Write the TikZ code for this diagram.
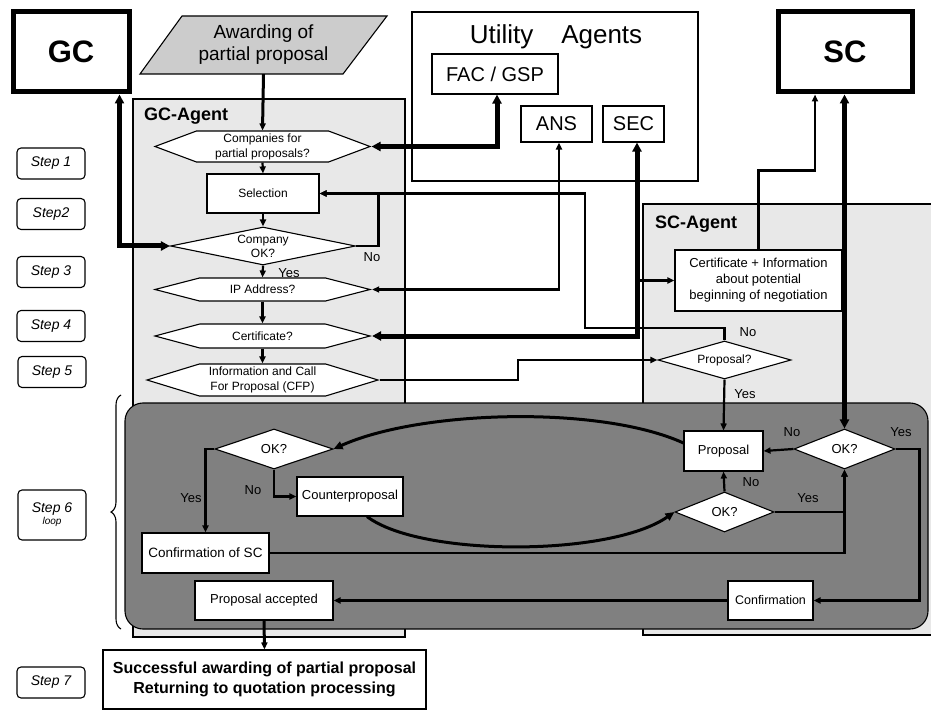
\documentclass[tikz,border=0pt]{standalone}
\usepackage{fontspec}
\setmainfont{Liberation Sans}
\usetikzlibrary{arrows.meta, shapes.geometric, shapes.symbols, decorations.pathreplacing}

\begin{document}
\begin{tikzpicture}[x=1pt, y=-1pt, >={Triangle[length=7pt, width=6pt]},
  box/.style={rectangle, draw, line width=1.1pt, fill=white, inner sep=0pt, align=center},
  hexa/.style={signal, signal to=west and east, draw, line width=1.1pt, fill=white, inner sep=0pt, align=center, font=\fontsize{12}{15}\selectfont},
  dia/.style={diamond, draw, line width=1.1pt, fill=white, inner sep=0pt, align=center},
  stepbox/.style={rectangle, draw, rounded corners=4pt, line width=1.1pt, fill=white, minimum width=68pt, minimum height=31pt, align=center, font=\fontsize{14}{15}\selectfont\itshape},
  party/.style={box, line width=5pt, minimum width=116pt, minimum height=80pt, font=\fontsize{31}{32}\selectfont\bfseries},
  agent/.style={box, font=\fontsize{20}{22}\selectfont},
  area/.style={draw, line width=1.1pt, fill=black!9},
  title/.style={inner sep=0pt, anchor=west, font=\fontsize{18}{20}\selectfont\bfseries},
  lab/.style={inner sep=0pt, font=\fontsize{13}{14}\selectfont},
  link/.style={->, line width=2.2pt},
  wire/.style={line width=2.8pt},
  heavy/.style={line width=5pt, >={Triangle[length=9pt, width=9pt]}},
  curvy/.style={->, line width=3pt, >={Triangle[length=9pt, width=8pt]}}
]
\useasboundingbox (0,0) rectangle (931,711);
% areas
\filldraw[area] (133,99) rectangle (405,637);
\filldraw[area] (643,204) rectangle (945,635);
\filldraw[fill=white, line width=1.1pt] (412,12) rectangle (698,181);
\filldraw[line width=1.1pt, fill=black!50, rounded corners=18pt] (125,403) rectangle (928,629);
\node[title] (gct) at (144,116) {GC-Agent};
\node[title] (sct) at (655,224) {SC-Agent};
\node[inner sep=0pt, font=\fontsize{26}{28}\selectfont] (ut) at (556,37) {Utility\hspace{28pt}Agents};
\draw[line width=1.1pt, decorate, decoration={brace, amplitude=10pt}] (121,629) -- (121,395);

% parties and utility agents
\node[party] (gc) at (71,52) {GC};
\node[party, minimum width=134pt] (sc) at (845,52) {SC};
\node[agent, minimum width=126pt, minimum height=40pt] (fac) at (495,74) {FAC / GSP};
\node[agent, minimum width=71pt, minimum height=36pt] (ans) at (556.5,124) {ANS};
\node[agent, minimum width=61pt, minimum height=36pt] (sec) at (633.5,124) {SEC};
\filldraw[line width=1.1pt, fill=black!20] (182,16) -- (387,16) -- (343,74) -- (140,74) -- cycle;
\node[inner sep=0pt, minimum height=58pt, align=center, font=\fontsize{19}{22}\selectfont] (aw) at (263.5,45) {Awarding of\\partial proposal};

% steps
\node[stepbox] (s1) at (51,163.5) {Step 1};
\node[stepbox] (s2) at (51,214) {Step2};
\node[stepbox] (s3) at (51,272) {Step 3};
\node[stepbox] (s4) at (51,326) {Step 4};
\node[stepbox] (s5) at (52,372) {Step 5};
\node[stepbox, minimum height=50pt] (s6) at (52,515) {Step 6\\[-3pt]{\fontsize{10}{11}\selectfont loop}};
\node[stepbox] (s7) at (51,682.5) {Step 7};

% GC-Agent
\node[hexa, signal pointer angle=41, minimum width=215pt, minimum height=31pt] (comp) at (262.5,146.5) {Companies for\\partial proposals?};
\node[box, minimum width=112pt, minimum height=39pt, font=\fontsize{12}{14}\selectfont] (sel) at (263,193.5) {Selection};
\node[dia, aspect=4.9, minimum width=185pt, minimum height=38pt, font=\fontsize{12}{14}\selectfont] (cok) at (263,246) {Company\\OK?};
\node[hexa, signal pointer angle=29, minimum width=215pt, minimum height=23pt] (ip) at (262.5,289.5) {IP Address?};
\node[hexa, signal pointer angle=30, minimum width=215pt, minimum height=24pt] (cert) at (262.5,336) {Certificate?};
\node[hexa, signal pointer angle=34, minimum width=231pt, minimum height=32pt] (cfp) at (262.5,380) {Information and Call\\For Proposal (CFP)};

% SC-Agent
\node[box, minimum width=167pt, minimum height=61pt, font=\fontsize{13}{16}\selectfont] (ci) at (758.5,280.5) {Certificate + Information\\about potential\\beginning of negotiation};
\node[dia, aspect=3.5, minimum width=133pt, minimum height=38pt, font=\fontsize{12}{14}\selectfont] (pq) at (724.5,360) {Proposal?};

% loop
\node[dia, aspect=3, minimum width=118pt, minimum height=40pt, font=\fontsize{13}{14}\selectfont] (lok) at (274,449) {OK?};
\node[box, minimum width=106pt, minimum height=39pt, font=\fontsize{13}{14}\selectfont] (cp) at (350,496.5) {Counterproposal};
\node[box, minimum width=127pt, minimum height=40pt, font=\fontsize{13.5}{14}\selectfont] (csc) at (205.5,553) {Confirmation of SC};
\node[box, minimum width=138pt, minimum height=39pt, font=\fontsize{13}{14}\selectfont] (pa) at (264,600.5) {Proposal accepted};
\node[box, minimum width=79pt, minimum height=40pt, font=\fontsize{13}{14}\selectfont] (prop) at (723.5,451) {Proposal};
\node[dia, aspect=2.5, minimum width=101pt, minimum height=40pt, font=\fontsize{13}{14}\selectfont] (rok) at (844.5,449) {OK?};
\node[dia, aspect=2.5, minimum width=99pt, minimum height=40pt, font=\fontsize{13}{14}\selectfont] (bok) at (724.5,512) {OK?};
\node[box, minimum width=85pt, minimum height=39pt, font=\fontsize{12.5}{14}\selectfont] (conf) at (770.5,600.5) {Confirmation};
\node[box, minimum width=323pt, minimum height=59pt, font=\fontsize{16}{20}\selectfont\bfseries] (succ) at (264.5,679.5) {Successful awarding of partial proposal\\Returning to quotation processing};

% GC-Agent flow
\draw[link, line width=3pt] (aw.south) -- (comp.north);
\draw[link] (comp.south) -- (sel.north);
\draw[link] (sel.south) -- (cok.north);
\draw[link] (cok.south) -- (ip.north);
\draw[link, line width=2.8pt] (ip.south) -- (cert.north);
\draw[link, line width=2.8pt] (cert.south) -- (cfp.north);
\draw[wire, ->] (cok.east) -| ([xshift=59pt]sel.east) -- (sel.east);
\node[lab] at (372,257) {No};
\node[lab] at (289,273) {Yes};

% utility agents and parties
\draw[heavy, <->] ([xshift=-12pt]gc.south east) |- (cok.west);
\draw[heavy, <->] (comp.east) -| ([xshift=2pt]fac.south);
\draw[wire, <->] (ip.east) -| ([xshift=2.5pt]ans.south);
\draw[heavy, <->] (cert.east) -| ([xshift=3.5pt]sec.south);
\draw[wire, ->] ([xshift=3.5pt]sec.south |- ci.west) -- (ci.west);
\draw[wire, ->] (ci.north) -- ++(0,-79) -| ([xshift=-30pt]sc.south);
\draw[heavy, <->] (sc.south -| rok.north) -- (rok.north);
\draw[wire, ->] (cfp.east) -- (518,380) |- (pq.west);
\draw[wire, ->] (pq.north) |- (585,328) |- (sel.east);
\node[lab] at (748,332) {No};
\draw[link] (pq.south) -- (prop.north);
\node[lab] at (745,394) {Yes};

% negotiation loop
\draw[link] (lok.west) -| (csc.north);
\node[lab] at (191,498) {Yes};
\draw[link, line width=2.8pt] (lok.south) |- (cp.west);
\node[lab] at (253,490) {No};
\draw[link] (rok.west) -- (prop.east);
\node[lab] at (792,432) {No};
\draw[link] (rok.east) -- ++(24,0) |- (conf.east);
\node[lab] at (901,432) {Yes};
\draw[link] (bok.north) -- (prop.south);
\node[lab] at (751,482) {No};
\draw[link] (bok.east) -| (rok.south);
\node[lab] at (808,498) {Yes};
\draw[link] (csc.east) -| (rok.south);
\draw[link] (conf.west) -- (pa.east);
\draw[link, line width=3pt] (pa.south) -- (succ.north);
\draw[curvy] ([yshift=8pt]prop.west) .. controls (600,405) and (420,410) .. (lok.east);
\draw[curvy] ([xshift=17pt]cp.south) .. controls (420,557) and (610,557) .. (bok.west);
\end{tikzpicture}
\end{document}
